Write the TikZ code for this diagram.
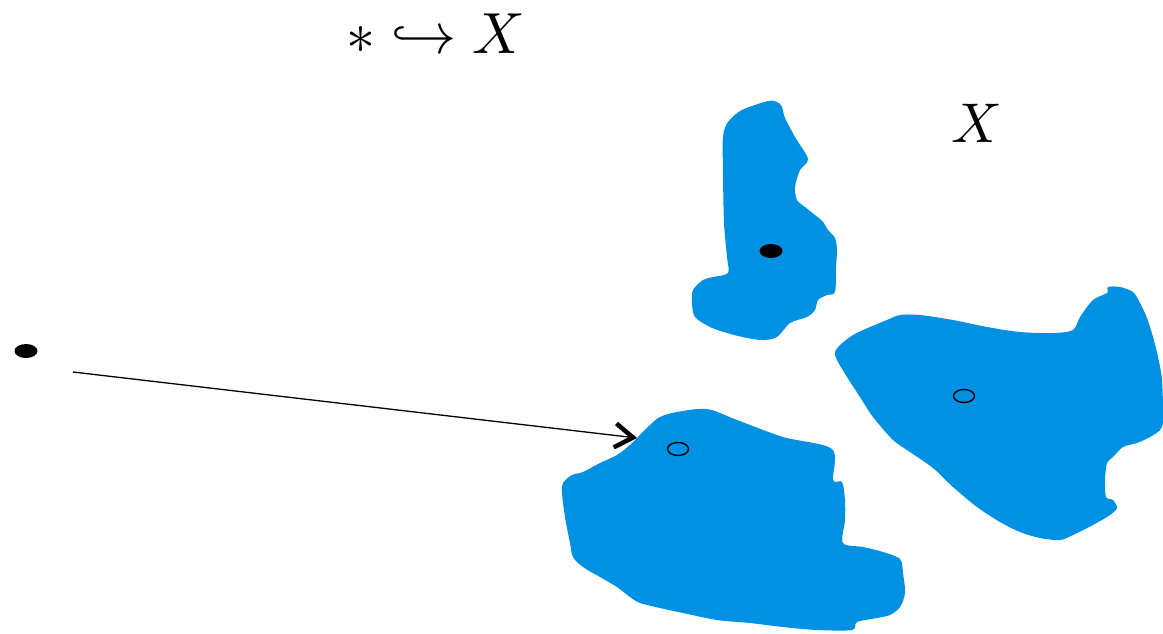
\documentclass[tikz,border=0pt]{standalone}
\usetikzlibrary{shapes.geometric,arrows.meta}
\definecolor{blobblue}{HTML}{0091E3}
\begin{document}
\begin{tikzpicture}[x=1pt,y=-1pt,
  blob/.style={fill=blobblue,draw=none},
  soliddot/.style={ellipse,fill=black,inner sep=0pt,minimum width=23pt,minimum height=14pt},
  opendot/.style={ellipse,draw=black,line width=1.4pt,inner sep=0pt,minimum width=21pt,minimum height=13pt},
  bigmath/.style={inner sep=0pt}]
\useasboundingbox (0,0) rectangle (1163,633);
% top blob
\fill[blob] plot[smooth cycle,tension=0.5] coordinates {
 (728,122) (742,110) (768,101) (777,102) (782,107) (785,118) (795,137) (808,159)
 (800,170) (795,187) (797,200) (805,207) (815,215) (823,222) (828,230) (835,238)
 (837,250) (836,267) (835,292) (827,295) (818,300) (815,310) (807,317) (790,323)
 (777,337) (763,340) (747,338) (727,333) (710,327) (695,317) (692,303) (693,290)
 (703,280) (713,277) (728,273) (727,257) (724,223) (723,173) (723,137)};
% right blob
\fill[blob] plot[smooth cycle,tension=0.5] coordinates {
 (835,352) (840,345) (853,335) (870,327) (887,320) (900,315) (920,315) (953,320)
 (987,327) (1020,332) (1053,333) (1073,330) (1080,317) (1093,300) (1107,293) (1108,287)
 (1120,287) (1133,292) (1140,303) (1147,318) (1153,337) (1158,357) (1162,380) (1163,420)
 (1160,430) (1150,437) (1137,443) (1123,447) (1113,457) (1107,463) (1105,480) (1106,497)
 (1113,500) (1117,508) (1110,515) (1093,525) (1073,535) (1060,540) (1040,538) (1020,532)
 (1000,522) (977,507) (953,487) (933,468) (910,452) (893,440) (873,417) (860,397)
 (847,377) (837,360)};
% bottom blob
\fill[blob] plot[smooth cycle,tension=0.5] coordinates {
 (637,438) (650,425) (660,417) (677,412) (707,409) (737,420) (783,437) (832,449)
 (833,480) (842,482) (845,500) (845,520) (843,543) (863,547) (883,552) (900,559)
 (903,573) (905,593) (900,607) (890,615) (877,618) (857,622) (852,630) (817,630)
 (783,627) (750,623) (717,620) (683,613) (660,608) (640,603) (630,597) (617,587)
 (600,577) (583,567) (573,557) (570,543) (565,517) (562,493) (563,483) (572,475)
 (583,472) (600,463) (617,455) (630,445)};
% dots
\node[soliddot] (p) at (26,351) {};
\node[soliddot] (q) at (771,251) {};
\node[opendot] (r) at (964,396) {};
\node[opendot] (s) at (678,449) {};
% texts
\node[bigmath] (title) at (436,34) {\scalebox{5.8}{$*\hookrightarrow X$}};
\node[bigmath] (xlab) at (977,123) {\scalebox{5.6}{$X$}};
% arrow
\coordinate (a0) at (73,372);
\coordinate (a1) at (637,438);
\draw[line width=1.3pt,-{Straight Barb[length=18pt,width=24pt,line width=4.5pt]}] (a0) -- (a1);
\end{tikzpicture}
\end{document}
